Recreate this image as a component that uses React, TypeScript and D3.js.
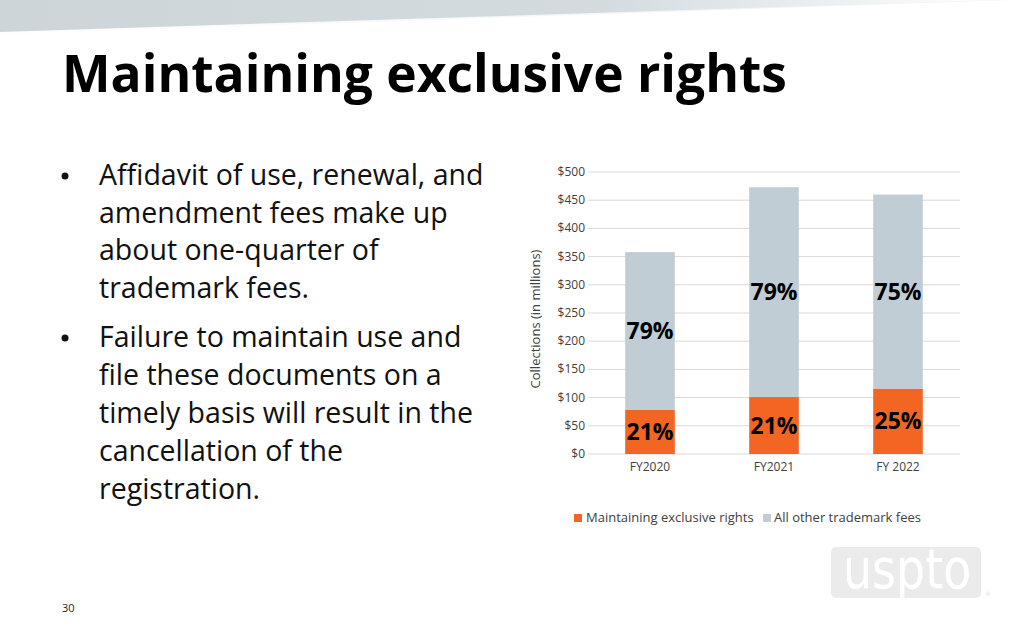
import React from "react";
import * as d3 from "d3";

const categories = ["FY2020", "FY2021", "FY2022"];
const categoryLabels = ["FY2020", "FY2021", "FY 2022"];
const maintainingValues = [78, 101, 116];
const otherValues = [280, 372, 344];
const maintainingLabels = ["21%", "21%", "25%"];
const otherLabels = ["79%", "79%", "75%"];
const yTicks = [0, 50, 100, 150, 200, 250, 300, 350, 400, 450, 500];
const seriesNames = ["Maintaining exclusive rights", "All other trademark fees"];
const bullet1 = ["Affidavit of use, renewal, and", "amendment fees make up", "about one-quarter of", "trademark fees."];
const bullet2 = ["Failure to maintain use and", "file these documents on a", "timely basis will result in the", "cancellation of the", "registration."];

const ORANGE = "#F26522";
const GREY = "#C0CDD4";
const FONT = "'Open Sans', 'Noto Sans', sans-serif";

export default function App() {
  const W = 1024, H = 640;
  const x = d3.scaleBand<string>().domain(categories).range([588, 960]).paddingInner(0.6).paddingOuter(0.3);
  const y = d3.scaleLinear().domain([0, 500]).range([454, 172]);

  const rows = categories.map((c, i) => ({ c, label: categoryLabels[i], m: maintainingValues[i], o: otherValues[i] }));
  const stack = d3.stack<any>().keys(["m", "o"])(rows as any);

  return (
    <svg width={W} height={H} style={{ position: "absolute", left: 0, top: 0, background: "#fff" }} fontFamily={FONT}>
      <defs>
        <linearGradient id="hdr" x1="0" x2="1" y1="0" y2="0">
          <stop offset="0" stopColor="#cdd5d9" />
          <stop offset="0.6" stopColor="#d3dbdf" />
          <stop offset="1" stopColor="#ffffff" />
        </linearGradient>
        <linearGradient id="hdrShadow" x1="0" x2="0" y1="0" y2="1">
          <stop offset="0" stopColor="#e9eef0" />
          <stop offset="1" stopColor="#ffffff" />
        </linearGradient>
      </defs>
      <rect width={W} height={H} fill="#fff" />
      <path d={`M0,0 L1010,0 L0,35 Z`} fill="url(#hdrShadow)" opacity={0.8} />
      <path d={`M0,0 L1000,0 L0,32 Z`} fill="url(#hdr)" />

      <text x={62} y={92} fontSize={51.5} fontWeight={700} fill="#000">Maintaining exclusive rights</text>

      {bullet1.map((t, i) => (
        <text key={"b1" + i} x={99} y={185 + i * 37.6} fontSize={28.5} fill="#111">{t}</text>
      ))}
      <circle cx={65} cy={176} r={3.5} fill="#111" />
      {bullet2.map((t, i) => (
        <text key={"b2" + i} x={99} y={347 + i * 38} fontSize={28.5} fill="#111">{t}</text>
      ))}
      <circle cx={65} cy={338} r={3.5} fill="#111" />

      {yTicks.map((t) => (
        <g key={"g" + t}>
          <line x1={588} x2={960} y1={y(t)} y2={y(t)} stroke="#d9d9d9" strokeWidth={1} />
          <text x={585} y={y(t) + 4} textAnchor="end" fontSize={12} fill="#404040">${t}</text>
        </g>
      ))}

      {stack.map((s, si) =>
        s.map((d: any, i: number) => (
          <rect key={si + "-" + i} x={x(categories[i])} width={x.bandwidth()} y={y(d[1])} height={y(d[0]) - y(d[1])} fill={si === 0 ? ORANGE : GREY} />
        ))
      )}
      {stack.map((s, si) =>
        s.map((d: any, i: number) => (
          <text key={"l" + si + "-" + i} x={x(categories[i])! + x.bandwidth() / 2} y={(y(d[0]) + y(d[1])) / 2 + 8} textAnchor="middle" fontSize={23} fontWeight={700} fill="#000">
            {si === 0 ? maintainingLabels[i] : otherLabels[i]}
          </text>
        ))
      )}

      {rows.map((r) => (
        <text key={"x" + r.c} x={x(r.c)! + x.bandwidth() / 2} y={471} textAnchor="middle" fontSize={12} fill="#404040">{r.label}</text>
      ))}

      <text transform={`translate(540,319) rotate(-90)`} textAnchor="middle" fontSize={13} fill="#404040">Collections (in millions)</text>

      <rect x={574} y={514} width={8} height={8} fill={ORANGE} />
      <text x={586} y={522} fontSize={13} fill="#404040">{seriesNames[0]}</text>
      <rect x={763} y={514} width={8} height={8} fill={GREY} />
      <text x={774} y={522} fontSize={13} fill="#404040">{seriesNames[1]}</text>

      <rect x={831} y={547} width={150} height={51} rx={5} fill="#ebebeb" />
      <text transform="translate(843,588) scale(0.82,1)" fontSize={56} fill="#ffffff" fontFamily="'DejaVu Sans', sans-serif">uspto</text>
      <text x={985} y={596} fontSize={6} fill="#e0e0e0" fontFamily="'DejaVu Sans', sans-serif">®</text>

      <text x={62} y={612} fontSize={11} fill="#222">30</text>
    </svg>
  );
}
